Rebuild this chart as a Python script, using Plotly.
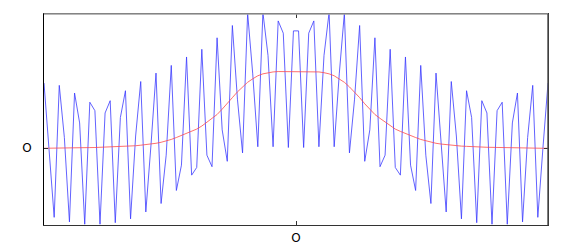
import numpy as np
import plotly.graph_objects as go

# sample grid (100 evenly spaced samples across the axis)
x = np.linspace(-1, 1, 100)

blue = [0.85, 0.0, -0.90, 0.82, 0.14, -0.96, 0.72, 0.33, -0.99, 0.60,
        0.49, -0.99, 0.46, 0.62, -0.97, 0.40, 0.75, -0.92, 0.16, 0.87,
        -0.83, 0.03, 0.98, -0.72, -0.09, 1.08, -0.55, -0.22, 1.19, -0.35,
        -0.25, 1.29, -0.09, -0.24, 1.44, 0.24, -0.17, 1.60, 0.64, -0.06,
        1.76, 0.97, 0.02, 1.77, 1.21, 0.02, 1.66, 1.50, 0.01, 1.53,
        1.53, 0.01, 1.50, 1.66, 0.02, 1.21, 1.77, 0.02, 0.97, 1.76,
        -0.06, 0.64, 1.60, -0.17, 0.24, 1.44, -0.24, -0.09, 1.29, -0.25,
        -0.35, 1.19, -0.22, -0.55, 1.08, -0.09, -0.72, 0.98, 0.03, -0.83,
        0.87, 0.16, -0.92, 0.75, 0.40, -0.97, 0.62, 0.46, -0.99, 0.49,
        0.60, -0.99, 0.33, 0.72, -0.96, 0.14, 0.82, -0.90, 0.0, 0.85]

# red smooth envelope
red = [0.0, 0.0, 0.002, 0.003, 0.004, 0.005, 0.006, 0.007, 0.008, 0.009,
       0.010, 0.012, 0.013, 0.015, 0.017, 0.020, 0.025, 0.028, 0.033, 0.040,
       0.047, 0.055, 0.065, 0.078, 0.095, 0.115, 0.14, 0.165, 0.19, 0.22,
       0.25, 0.29, 0.34, 0.39, 0.44, 0.51, 0.58, 0.66, 0.735, 0.80,
       0.86, 0.905, 0.945, 0.97, 0.985, 0.995, 1.0, 1.0, 1.0, 1.0,
       1.0, 1.0, 1.0, 1.0, 0.995, 0.985, 0.97, 0.945, 0.905, 0.86,
       0.80, 0.735, 0.66, 0.58, 0.51, 0.44, 0.39, 0.34, 0.29, 0.25,
       0.22, 0.19, 0.165, 0.14, 0.115, 0.095, 0.078, 0.065, 0.055, 0.047,
       0.040, 0.033, 0.028, 0.025, 0.020, 0.017, 0.015, 0.013, 0.012, 0.010,
       0.009, 0.008, 0.007, 0.006, 0.005, 0.004, 0.003, 0.002, 0.0, 0.0]

x_tick_vals = [0]
x_tick_text = ["O"]
y_tick_vals = [0]
y_tick_text = ["O"]

fig = go.Figure()
fig.add_trace(go.Scatter(x=x, y=blue, mode="lines",
                         line=dict(color="#3a3aff", width=0.8)))
fig.add_trace(go.Scatter(x=x, y=red, mode="lines",
                         line=dict(color="#ff4a4a", width=0.8)))

axis_font = dict(family="DejaVu Sans", size=12, color="#000000")
# page body has an 8px default margin, so the figure is sized/placed to compensate
fig.update_layout(
    width=573, height=241,
    margin=dict(l=36, r=33, t=6, b=24, autoexpand=False),
    paper_bgcolor="white", plot_bgcolor="white",
    showlegend=False,
    xaxis=dict(range=[-1, 1], tickvals=x_tick_vals, ticktext=x_tick_text,
               showgrid=False, zeroline=False, showline=True, automargin=False,
               linecolor="#333333", linewidth=1, mirror="ticks",
               ticks="inside", ticklen=4, tickcolor="#333333",
               tickfont=axis_font, ticklabelstandoff=2),
    yaxis=dict(range=[-1, 1.75], tickvals=y_tick_vals, ticktext=y_tick_text,
               showgrid=False, zeroline=False, showline=True, automargin=False,
               linecolor="#000000", linewidth=1, mirror="ticks",
               ticks="inside", ticklen=4, tickcolor="#333333",
               tickfont=axis_font, ticklabelstandoff=9),
    shapes=[
        dict(type="line", xref="paper", yref="paper", x0=0, x1=1, y0=1, y1=1,
             line=dict(color="#a0a0a0", width=1.5), layer="above"),
        dict(type="line", xref="paper", yref="paper", x0=1, x1=1, y0=0, y1=1,
             line=dict(color="#555555", width=1.5), layer="above"),
    ],
)

fig.write_html("out.html")
